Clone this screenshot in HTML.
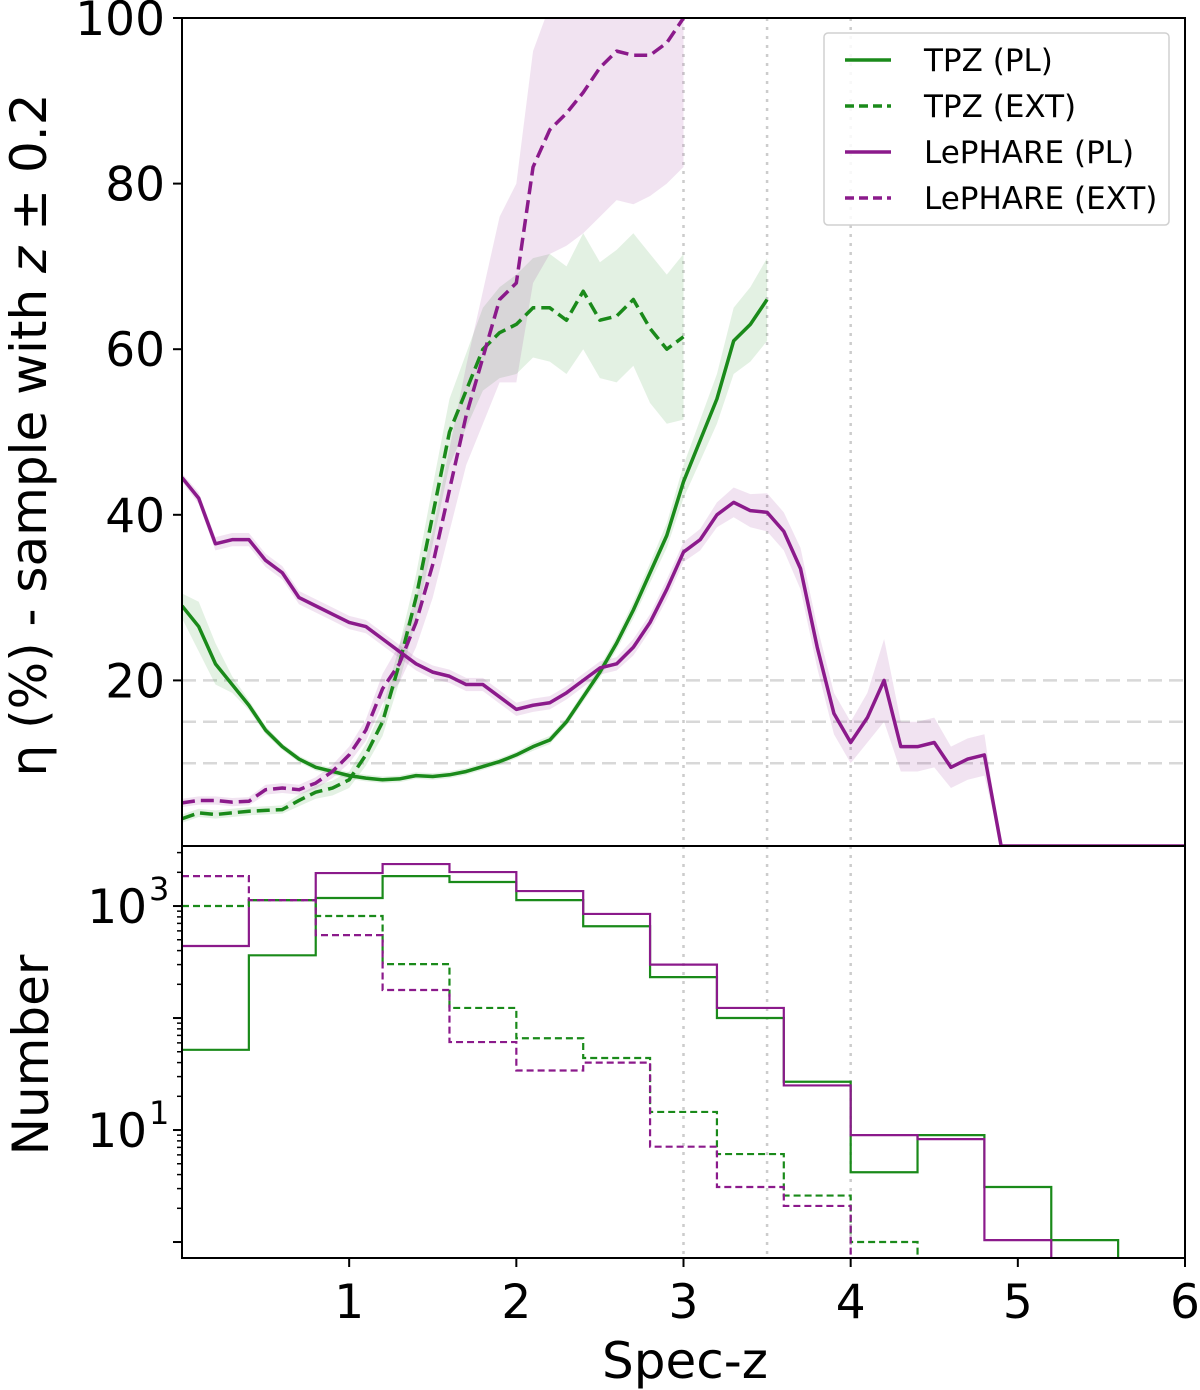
<!DOCTYPE html>
<html><head><meta charset="utf-8"><style>
body{margin:0;background:#fff}
svg{display:block;font-family:"DejaVu Sans","Liberation Sans",sans-serif}
</style></head><body>
<svg id="chart" width="1200" height="1390" viewBox="0 0 1200 1390">
<g id="g"></g>
</svg>
<script>
const zTop=[0,0.1,0.2,0.3,0.4,0.5,0.6,0.7,0.8,0.9,1.0,1.1,1.2,1.3,1.4,1.5,1.6,1.7,1.8,1.9,2.0,2.1,2.2,2.3,2.4,2.5,2.6,2.7,2.8,2.9,3.0,3.1,3.2,3.3,3.4,3.5,3.6,3.7,3.8,3.9,4.0,4.1,4.2,4.3,4.4,4.5,4.6,4.7,4.8,4.9,5.0,6.0];
const tpzPL=[29,26.5,22,19.5,17,14,12,10.5,9.5,9,8.5,8.2,8,8.1,8.5,8.4,8.6,9,9.6,10.2,11,12,12.8,15,18,21,24.5,28.5,33,37.5,44,49,54,61,63,66];
const tpzPLerr=[1.5,3,2.5,1,0.6,0.5,0.4,0.4,0.4,0.4,0.4,0.4,0.4,0.4,0.4,0.4,0.4,0.4,0.4,0.4,0.4,0.5,0.5,0.5,0.6,0.7,0.8,1,1.2,1.5,2,2.5,3,4,4.5,5];
const tpzEXT=[3.3,4,3.8,4,4.2,4.3,4.4,5.5,6.5,7,8,11,15,22,30,40,50,55,60,62,63,65,65,63.5,67,63.5,64,66,62.5,60,61.5];
const tpzEXTerr=[0.5,0.5,0.5,0.5,0.5,0.5,0.5,0.7,0.8,0.9,1,1.3,1.7,2.2,2.8,3.5,4,4.5,5,5.5,6,6,6.5,6.5,7,7,8,8,9,9,10];
const lpPL=[44.5,42,36.5,37,37,34.5,33,30,29,28,27,26.5,25,23.5,22,21,20.5,19.5,19.5,18,16.5,17,17.3,18.5,20,21.5,22,24,27,31,35.5,37,40,41.5,40.5,40.3,38,33.5,24,16,12.5,15.5,20,12,12,12.5,9.5,10.5,11,0,0,0];
const lpPLerr=[0.5,0.7,0.8,0.8,0.8,0.8,0.8,0.8,0.8,0.8,0.8,0.8,0.8,0.8,0.8,0.8,0.8,0.8,0.8,0.8,0.8,0.8,0.8,0.8,0.8,0.8,0.8,1,1,1.2,1.2,1.3,1.5,1.8,2,2.3,2.3,2.5,2.5,2.5,2.5,3,5,3,3,3,2.5,2.5,2.5,0,0,0];
const lpEXT=[5.2,5.5,5.5,5.3,5.4,6.8,7,6.8,7.6,9,11,14,19,22,27,34,43,52,59,66,68,82,86.5,88.5,91,94,96,95.5,95.5,97,100];
const lpEXTerr=[0.5,0.5,0.5,0.5,0.5,0.6,0.6,0.6,0.7,0.8,1,1.3,1.8,2.3,3,4,5,6,8,10,12,14,15,16,17,18,18,18,17,17,18];
const binEdges=[0,0.4,0.8,1.2,1.6,2.0,2.4,2.8,3.2,3.6,4.0,4.4,4.8,5.2,5.6,6.0];
const hTpzPL=[52,363,1180,1850,1640,1130,660,232,100,27,4.2,9.0,3.1,1.04,0];
const hLpPL=[440,1130,1970,2370,2010,1360,850,300,123,25,9.0,8.3,1.04,0,0];
const hTpzEXT=[1000,1130,815,303,123,66,44,14.5,6.1,2.6,1.0,0,0,0,0];
const hLpEXT=[1850,1130,550,178,61,34,40,7.1,3.1,2.1,0,0,0,0,0];
const xTicks=[1,2,3,4,5,6];
const yTicks=[20,40,60,80,100];
const vLines=[3,3.5,4];
const hLines=[10,15,20];

(function(){
const NS="http://www.w3.org/2000/svg";
const g=document.getElementById('g');
const X0=182,X1=1185,T0=18,T1=846,B1=1258;
const xs=v=>X0+(X1-X0)*v/6;
const yt=v=>T1-(T1-T0)*v/100;
const LMIN=Math.log10(0.72),LMAX=Math.log10(3436);
const yb=v=>v<=0?B1+5:B1-(B1-T1)*(Math.log10(v)-LMIN)/(LMAX-LMIN);
function el(t,a,p){const e=document.createElementNS(NS,t);for(const k in a)e.setAttribute(k,a[k]);(p||g).appendChild(e);return e;}
const GREEN="#1a8a1a",PURP="#8b1a8b";

const defsEl=el('defs',{});
const c1=el('clipPath',{id:'ct'},defsEl);el('rect',{x:X0,y:T0,width:X1-X0,height:T1-T0},c1);
const c2=el('clipPath',{id:'cb'},defsEl);el('rect',{x:X0,y:T1,width:X1-X0,height:B1-T1},c2);
const topG=el('g',{'clip-path':'url(#ct)'});


const botG=el('g',{'clip-path':'url(#cb)'});



hLines.forEach(v=>{const l=el('line',{x1:X0,x2:X1,y1:yt(v),y2:yt(v),stroke:'#d8d8d8','stroke-width':2.5,'stroke-dasharray':'14 7'},topG);

});
vLines.forEach(v=>{[topG,botG].forEach(p=>{const l=el('line',{x1:xs(v),x2:xs(v),y1:T0,y2:B1,stroke:'#cccccc','stroke-width':2.5,'stroke-dasharray':'3 6'},p);

});});

function band(vals,err,color,name){
  let up=[],dn=[];
  vals.forEach((v,i)=>{up.push(xs(zTop[i])+','+yt(v+err[i]));dn.unshift(xs(zTop[i])+','+yt(Math.max(0,v-err[i])));});
  const p=el('polygon',{points:up.concat(dn).join(' '),fill:color,'fill-opacity':0.12},topG);
  
  
}
function line(vals,color,dash,name){
  const pts=vals.map((v,i)=>xs(zTop[i])+','+yt(v)).join(' ');
  const p=el('polyline',{points:pts,fill:'none',stroke:color,'stroke-width':3.5,'stroke-dasharray':dash||'none','stroke-linejoin':'round'},topG);
  
  
}
band(tpzPL,tpzPLerr,GREEN,'tpz-pl-band');
band(tpzEXT,tpzEXTerr,GREEN,'tpz-ext-band');
band(lpPL,lpPLerr,PURP,'lephare-pl-band');
band(lpEXT,lpEXTerr,PURP,'lephare-ext-band');
line(tpzPL,GREEN,null,'tpz-pl-line');
line(tpzEXT,GREEN,'13 6','tpz-ext-line');
line(lpPL,PURP,null,'lephare-pl-line');
line(lpEXT,PURP,'13 6','lephare-ext-line');

function hist(vals,color,dash,name){
  let d='M'+xs(binEdges[0])+','+yb(vals[0]);
  vals.forEach((v,i)=>{d+=' L'+xs(binEdges[i])+','+yb(v)+' L'+xs(binEdges[i+1])+','+yb(v);});
  const p=el('path',{d:d,fill:'none',stroke:color,'stroke-width':2.2,'stroke-dasharray':dash||'none'},botG);
  
  
}
hist(hTpzPL,GREEN,null,'tpz-pl-histogram');
hist(hLpPL,PURP,null,'lephare-pl-histogram');
hist(hTpzEXT,GREEN,'7 4','tpz-ext-histogram');
hist(hLpEXT,PURP,'7 4','lephare-ext-histogram');

let f=el('rect',{x:X0,y:T0,width:X1-X0,height:T1-T0,fill:'none',stroke:'#000','stroke-width':2});


f=el('rect',{x:X0,y:T1,width:X1-X0,height:B1-T1,fill:'none',stroke:'#000','stroke-width':2});



xTicks.forEach(v=>{
  el('line',{x1:xs(v),x2:xs(v),y1:B1,y2:B1+9,stroke:'#000','stroke-width':2});
  const t=el('text',{x:xs(v),y:1318,'font-size':47,'text-anchor':'middle'});t.textContent=v;
  
  
});
yTicks.forEach(v=>{
  el('line',{x1:X0-9,x2:X0,y1:yt(v),y2:yt(v),stroke:'#000','stroke-width':2});
  const t=el('text',{x:165,y:yt(v)+17,'font-size':47,'text-anchor':'end'});t.textContent=v;
  
  
});
[1,10,100,1000].forEach(dec=>{for(let m=1;m<10;m++){const v=dec*m;if(v<0.72||v>3436)continue;
  const y=yb(v);el('line',{x1:X0-(m==1?9:5),x2:X0,y1:y,y2:y,stroke:'#000','stroke-width':m==1?2:1.5});}});
[[10,'1'],[1000,'3']].forEach(([v,e])=>{
  const t=el('text',{x:147,y:yb(v)+17,'font-size':47,'text-anchor':'end'});t.textContent='10';
  
  
  const s=el('text',{x:149,y:yb(v)-6,'font-size':32,'text-anchor':'start'});s.textContent=e;
});
let t=el('text',{x:685,y:1378,'font-size':50,'text-anchor':'middle'});t.textContent='Spec-z';


t=el('text',{x:0,y:0,'font-size':50,'text-anchor':'middle',transform:'translate(46,435) rotate(-90)'});
t.innerHTML='η (%) - sample with <tspan font-style="italic">z</tspan> ± 0.2';


t=el('text',{x:0,y:0,'font-size':50,'text-anchor':'middle',transform:'translate(48,1055) rotate(-90)'});t.textContent='Number';



const lg=el('g',{});


el('rect',{x:824,y:33,width:345,height:192,rx:4,fill:'#fff','fill-opacity':0.85,stroke:'#d0d0d0','stroke-width':1.5},lg);
[['TPZ (PL)',GREEN,null],['TPZ (EXT)',GREEN,'9 5'],['LePHARE (PL)',PURP,null],['LePHARE (EXT)',PURP,'9 5']].forEach((e,i)=>{
  const y=60+i*46;
  const ent=el('g',{},lg);
  
  
  el('line',{x1:845,x2:891,y1:y,y2:y,stroke:e[1],'stroke-width':3.5,'stroke-dasharray':e[2]||'none'},ent);
  const tx=el('text',{x:924,y:y+11,'font-size':31},ent);tx.textContent=e[0];
});
})();
</script>
</body></html>
